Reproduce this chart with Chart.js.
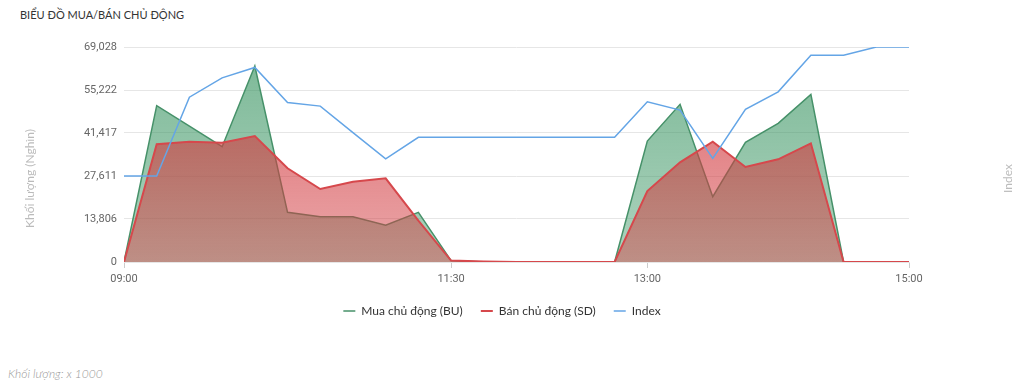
<!DOCTYPE html>
<html>
<head>
<meta charset="utf-8">
<script src="https://cdn.jsdelivr.net/npm/chart.js@4.4.0/dist/chart.umd.min.js"></script>
<style>
    body { margin: 0; background: #fff; width: 1024px; height: 388px; overflow: hidden; position: relative; font-family: Lato, sans-serif; }
    .title { position: absolute; left: 20px; top: 8px; font-size: 11px; color: #333; }
    .note { position: absolute; left: 8px; top: 366px; font-size: 12px; font-style: italic; font-weight: 300; color: #999; }
    .box { position: absolute; left: 0; top: 0; width: 1024px; height: 327px; }
</style>
</head>
<body>
<div class="title">BIỂU ĐỒ MUA/BÁN CHỦ ĐỘNG</div>
<div class="box"><canvas id="chartCanvas"></canvas></div>
<div class="note">Khối lượng: x 1000</div>
<script>
const times = ["09:00", "09:15", "09:30", "09:45", "10:00", "10:15", "10:30", "10:45", "11:00", "11:15", "11:30", "11:45",
    "12:00", "12:15", "12:30", "12:45", "13:00", "13:15", "13:30", "13:45", "14:00", "14:15", "14:30", "14:45", "15:00"];

// khoi luong (x1000)
const buVolume = [0, 50180, 43600, 37020, 62920, 15950, 14550, 14500, 11780, 15950, 450, 0,
    0, 0, 0, 0, 38850, 50620, 20970, 38420, 44520, 53830, 0, 0, 0];
const sdVolume = [0, 37790, 38620, 38300, 40450, 30080, 23440, 25780, 26870, 13300, 450, 150,
    0, 0, 0, 0, 22790, 32000, 38620, 30500, 32970, 38100, 0, 0, 0];
const indexValues = [1264.0, 1264.0, 1286.0, 1291.4, 1294.3, 1284.5, 1283.5, 1276.1, 1268.8, 1274.8, 1274.8, 1274.8,
    1274.8, 1274.8, 1274.8, 1274.8, 1284.7, 1282.4, 1268.9, 1282.6, 1287.5, 1297.7, 1297.7, 1300.0, 1300.0];

const xTickLabels = ["09:00", "11:30", "13:00", "15:00"];
const yTickValues = [0, 13806, 27611, 41417, 55222, 69028];

function toMinutes(t) {
    const parts = t.split(":");
    return (parseInt(parts[0]) - 9) * 60 + parseInt(parts[1]);
}
function toTime(m) {
    const h = 9 + Math.floor(m / 60);
    const mm = m % 60;
    return (h < 10 ? "0" : "") + h + ":" + (mm < 10 ? "0" : "") + mm;
}
function points(values) {
    return values.map(function (v, i) {
        return { x: toMinutes(times[i]), y: v };
    });
}

// vertical fade for the area fills
function fadeFill(r, g, b, topAlpha, bottomAlpha) {
    return function (context) {
        const area = context.chart.chartArea;
        if (!area) return "rgba(" + r + "," + g + "," + b + ",0.6)";
        const gradient = context.chart.ctx.createLinearGradient(0, area.top, 0, area.bottom);
        gradient.addColorStop(0, "rgba(" + r + "," + g + "," + b + "," + topAlpha + ")");
        gradient.addColorStop(1, "rgba(" + r + "," + g + "," + b + "," + bottomAlpha + ")");
        return gradient;
    };
}

const axisTitles = {
    id: "axisTitles",
    afterDraw: function (chart) {
        const ctx = chart.ctx;
        const area = chart.chartArea;
        const midY = (area.top + area.bottom) / 2 + 24;
        ctx.save();
        ctx.fillStyle = "#bbb";
        ctx.font = "12px Lato";
        ctx.textAlign = "center";
        ctx.textBaseline = "middle";
        ctx.translate(30, midY);
        ctx.rotate(-Math.PI / 2);
        ctx.fillText("Khối lượng (Nghìn)", 0, 0);
        ctx.restore();
        ctx.save();
        ctx.fillStyle = "#bbb";
        ctx.font = "12px Lato";
        ctx.textAlign = "center";
        ctx.textBaseline = "middle";
        ctx.translate(1008, midY);
        ctx.rotate(-Math.PI / 2);
        ctx.fillText("Index", 0, 0);
        ctx.restore();
    }
};

const ctx = document.getElementById("chartCanvas").getContext("2d");

const chart = new Chart(ctx, {
    type: "line",
    data: {
        datasets: [{
            label: "Mua chủ động (BU)",
            data: points(buVolume),
            borderColor: "rgb(70,145,105)",
            backgroundColor: fadeFill(60, 150, 100, 0.68, 0.42),
            borderWidth: 1.5,
            fill: "origin",
            yAxisID: "y",
            order: 3
        }, {
            label: "Bán chủ động (SD)",
            data: points(sdVolume),
            borderColor: "rgb(214,72,76)",
            backgroundColor: fadeFill(210, 60, 65, 0.78, 0.45),
            borderWidth: 2,
            fill: "origin",
            yAxisID: "y",
            order: 2
        }, {
            label: "Index",
            data: points(indexValues),
            borderColor: "rgb(100,165,230)",
            backgroundColor: "rgb(100,165,230)",
            borderWidth: 1.5,
            fill: false,
            yAxisID: "yIndex",
            order: 1
        }]
    },
    options: {
        responsive: true,
        maintainAspectRatio: false,
        animation: false,
        layout: { padding: { top: 47, left: 0, right: 20, bottom: 0 } },
        elements: {
            point: { radius: 0, hoverRadius: 0 },
            line: { tension: 0 }
        },
        plugins: {
            tooltip: { enabled: false },
            legend: {
                position: "bottom",
                labels: {
                    usePointStyle: true,
                    pointStyle: "line",
                    pointStyleWidth: 12,
                    padding: 18,
                    color: "#333",
                    font: { family: "Lato", size: 12 },
                    sort: function (a, b) { return a.datasetIndex - b.datasetIndex; }
                }
            }
        },
        scales: {
            x: {
                type: "linear",
                min: 0,
                max: toMinutes("15:00"),
                afterBuildTicks: function (scale) {
                    scale.ticks = xTickLabels.map(function (t) { return { value: toMinutes(t) }; });
                },
                afterFit: function (scale) { scale.height = 25; },
                ticks: {
                    color: "#666",
                    font: { family: "Roboto", size: 11 },
                    padding: 5,
                    maxRotation: 0,
                    callback: function (value) { return toTime(value); }
                },
                grid: { drawOnChartArea: false, drawTicks: true, tickLength: 6, color: "#ccc" },
                border: { color: "#e6e6e6" }
            },
            y: {
                position: "left",
                min: 0,
                max: yTickValues[yTickValues.length - 1],
                afterBuildTicks: function (scale) {
                    scale.ticks = yTickValues.map(function (v) { return { value: v }; });
                },
                afterFit: function (scale) { scale.width = 124; },
                ticks: {
                    color: "#666",
                    font: { family: "Roboto", size: 11 },
                    padding: 7,
                    callback: function (value) { return value.toLocaleString("en-US"); }
                },
                grid: { color: "#e6e6e6", drawTicks: false },
                border: { display: false }
            },
            yIndex: {
                position: "right",
                min: 1240,
                max: 1300,
                afterFit: function (scale) { scale.width = 95; },
                ticks: { display: false },
                grid: { display: false, drawTicks: false },
                border: { display: false }
            }
        }
    },
    plugins: [axisTitles]
});
</script>
</body>
</html>
